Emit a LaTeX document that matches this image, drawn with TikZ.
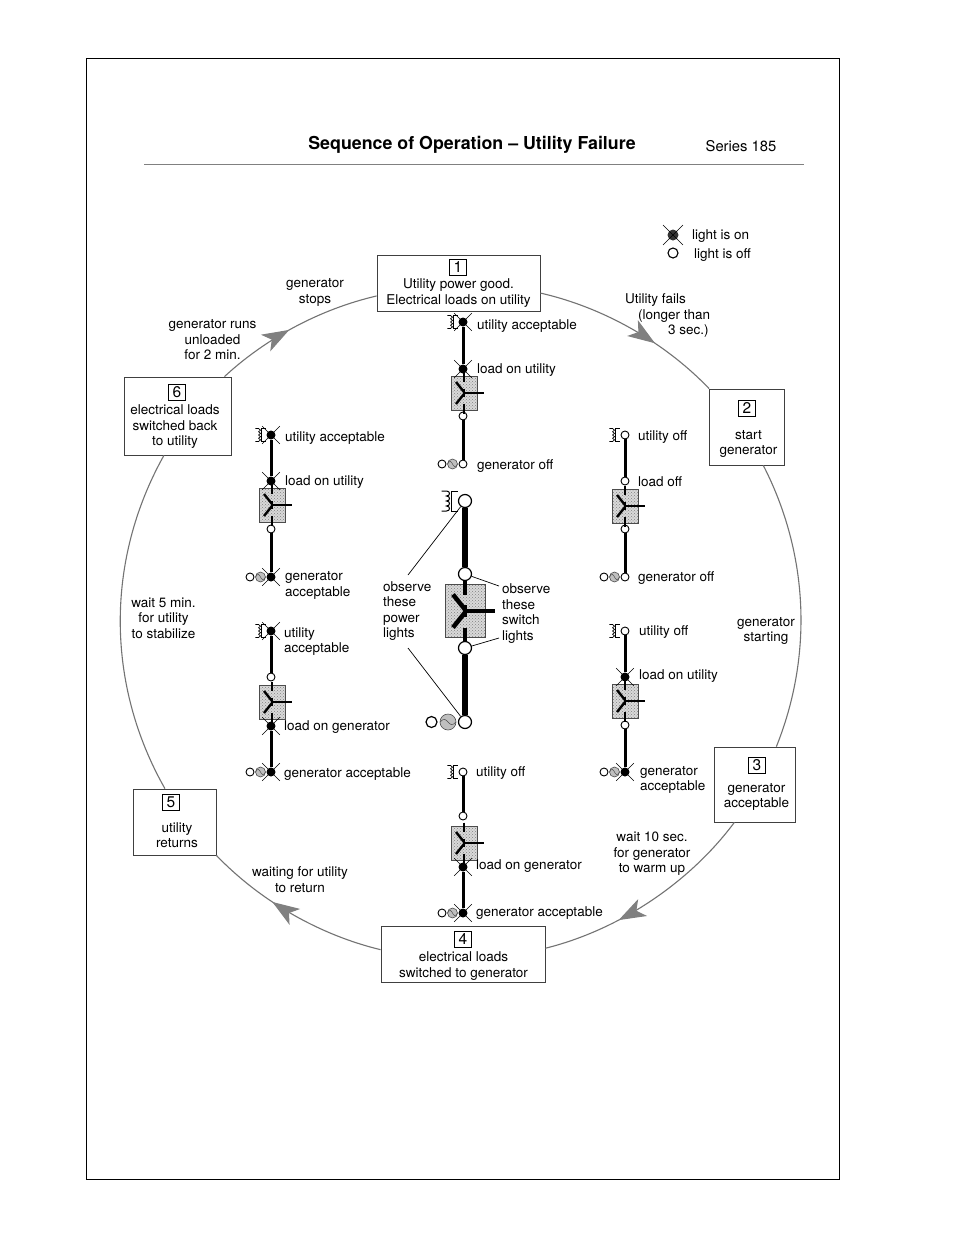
\documentclass[tikz,border=0pt]{standalone}
\usepackage{fontspec}
\setmainfont{TeX Gyre Heros}
\usepackage{tikz}
\usetikzlibrary{patterns, arrows.meta, decorations.markings}

\tikzset{
    lbl/.style={anchor=west, align=left, inner sep=0pt, yshift=-1pt},
    note/.style={align=center, inner sep=0pt, yshift=-1pt},
    stepbox/.style={draw=black!75, fill=white, line width=0.8pt},
    numbox/.style={draw=black, fill=white, line width=0.7pt, minimum width=17pt, minimum height=16pt, inner sep=0pt, font=\fontsize{15.5}{17}\selectfont},
    ringline/.style={draw=black!55, line width=1.1pt, looseness=0.85},
    ringarrow/.style={postaction={decorate, decoration={markings, mark=at position #1 with {\arrow[black!50]{Stealth[length=27pt, width=19pt, inset=7pt]}}}}},
    lampon/.style={circle, fill=black, inner sep=0pt, minimum size=9pt},
    lampoff/.style={circle, draw=black, fill=white, line width=0.9pt, inner sep=0pt, minimum size=8pt},
    lampbig/.style={circle, draw=black, fill=white, line width=1.2pt, inner sep=0pt, minimum size=13pt},
    genface/.style={circle, draw=black!70, fill=black!25, line width=0.6pt, inner sep=0pt, minimum size=#1,
        path picture={\draw[line width=0.5pt] (path picture bounding box.west)
            .. controls ([yshift=9pt]path picture bounding box.center)
            and ([yshift=-9pt]path picture bounding box.center) .. (path picture bounding box.east);}},
    swbox/.style={draw=black!70, line width=0.7pt, preaction={fill=black!15}, pattern=crosshatch dots, pattern color=black!50, inner sep=0pt, minimum width=26pt, minimum height=34pt},
    swbig/.style={swbox, minimum width=40pt, minimum height=53pt},
    feed/.style={line width=3pt},
    feedbig/.style={line width=5.5pt},
    leader/.style={line width=0.7pt}
}

% blades, stubs and handle of a transfer switch
\newcommand{\blades}[3]{
    \begin{scope}[shift={(#1.center)}, scale=#2, line width=#3]
        \draw (0,-20.5) -- (0,-11);
        \draw (0,-4) -- (0,4);
        \draw (0,11) -- (0,20.5);
        \draw (-8,-11) -- (0,-1);
        \draw (-8,11) -- (0,1);
        \draw (0,0) -- (20,0);
    \end{scope}
}
% transformer symbol beside the utility light
\newcommand{\coilsym}[4]{
    \begin{scope}[shift={(#1,#2)}, scale=#3, line width=#4]
        \draw (-8,-10) -- (-3,-10) .. controls (1,-10) and (1,-5) .. (-3,-5)
            .. controls (1,-5) and (1,0) .. (-3,0)
            .. controls (1,0) and (1,5) .. (-3,5)
            .. controls (1,5) and (1,10) .. (-3,10) -- (-8,10);
        \draw (8,-10) -- (2,-10) -- (2,10) -- (8,10);
    \end{scope}
}

\begin{document}
\begin{tikzpicture}[x=1pt, y=-1pt, font=\fontsize{13.5}{15.5}\selectfont]
    \useasboundingbox (0,0) rectangle (954,1235);
    \fill[white] (0,0) rectangle (954,1235);
    \draw[line width=0.9pt] (86,58) rectangle (839,1179);

    % Heading
    \node[note, font=\bfseries\fontsize{17.8}{20}\selectfont] (title) at (472,144) {Sequence of Operation -- Utility Failure};
    \node[note, font=\fontsize{14.8}{17}\selectfont] (series) at (741,145.5) {Series 185};
    \draw[black!50, line width=0.7pt] (144,164) -- (804,164);

    % Step boxes round the ring
    \node[stepbox, minimum width=163pt, minimum height=56pt] (step1) at (458.5,283) {};
    \node[stepbox, minimum width=75pt, minimum height=76pt] (step2) at (747,427) {};
    \node[stepbox, minimum width=81pt, minimum height=75pt] (step3) at (754.5,784.5) {};
    \node[stepbox, minimum width=164pt, minimum height=56pt] (step4) at (463,954) {};
    \node[stepbox, minimum width=83pt, minimum height=66pt] (step5) at (174.5,822) {};
    \node[stepbox, minimum width=107pt, minimum height=78pt] (step6) at (177.5,416) {};

    % Ring
    \draw[ringline, ringarrow=0.64] (step1.-7) to[bend left=16.7] (step2.north west);
    \draw[ringline, looseness=0.9] (step2.-67) to[bend left=24.5] (step3.60);
    \draw[ringline, ringarrow=0.66] (step3.242.5) to[bend left=19.7] (step4.4);
    \draw[ringline, ringarrow=0.62] (step4.177) to[bend left=16.3] (step5.south east);
    \draw[ringline, looseness=0.92] (step5.106) to[bend left=29.4] (step6.251);
    \draw[ringline, ringarrow=0.46] (step6.40) to[bend left=14.9] (step1.189);

    % Box numbers
    \foreach \nm/\x/\y/\num in {n1/458/267/1, n2/747/408/2, n3/757/765/3, n4/463/939/4, n5/171/802/5, n6/177/392/6} {
        \node[numbox] (\nm) at (\x,\y) {\num};
    }

    % Box texts
    \node[note] (txt1) at (458.5,292) {Utility power good.\\Electrical loads on utility};
    \node[note] (txt2) at (748.5,443) {start\\generator};
    \node[note] (txt3) at (756.5,796) {generator\\acceptable};
    \node[note] (txt4) at (463.5,965) {electrical loads\\switched to generator};
    \node[note] (txt5) at (177,834) {utility\\returns};
    \node[note] (txt6) at (175,426) {electrical loads\\switched back\\to utility};

    % Texts between the boxes
    \node[note] (stops) at (315,291.5) {generator\\stops};
    \node[note] (runs) at (212.5,339) {generator runs\\unloaded\\for 2 min.};
    \node[lbl] (fails) at (625,314.5) {Utility fails\\\hspace*{13pt}(longer than\\\hspace*{43pt}3 sec.)};
    \node[note] (starting) at (766,630) {generator\\starting};
    \node[note] (warm) at (652,853) {wait 10 sec.\\for generator\\to warm up};
    \node[note] (waiting) at (300,878.5) {waiting for utility\\to return};
    \node[note] (stabilize) at (163.5,617) {wait 5 min.\\for utility\\to stabilize};

    % Lights of the six small panels
    \foreach \nm/\x/\y/\kind in {
        aU/463/322/lampon, aL/463/369/lampon, aS/463/416/lampoff, aG/463/464/lampoff,
        bU/625/435/lampoff, bL/625/481/lampoff, bS/625/529/lampoff, bG/625/577/lampoff,
        cU/625/631/lampoff, cL/625/677/lampon, cS/625/725/lampoff, cG/625/772/lampon,
        dU/463/772/lampoff, dS/463/816/lampoff, dL/463/867/lampon, dG/463/913/lampon,
        eU/271/631/lampon, eS/271/677/lampoff, eL/271/726/lampon, eG/271/772/lampon,
        fU/271/435/lampon, fL/271/481/lampon, fS/271/529/lampoff, fG/271/577/lampon} {
        \node[\kind] (\nm) at (\x,\y) {};
    }

    % Feeds
    \draw[feed] (aU) -- (aL) (aS) -- (aG);
    \draw[feed] (bU) -- (bL) (bS) -- (bG);
    \draw[feed] (cU) -- (cL) (cS) -- (cG);
    \draw[feed] (dU) -- (dS) (dL) -- (dG);
    \draw[feed] (eU) -- (eS) (eL) -- (eG);
    \draw[feed] (fU) -- (fL) (fS) -- (fG);

    % Switches
    \foreach \nm/\x/\y in {aB/464/393, bB/625/506, cB/625/701, dB/464/843, eB/272/702, fB/272/505} {
        \node[swbox] (\nm) at (\x,\y) {};
        \blades{\nm}{1}{2.4pt}
    }

    % Utility and generator symbols
    \foreach \x/\y in {463/322, 625/435, 625/631, 463/772, 271/631, 271/435} {
        \coilsym{\x-10.5}{\y}{0.65}{0.7pt}
    }
    \foreach \nm/\x/\y in {aG/463/464, bG/625/577, cG/625/772, dG/463/913, eG/271/772, fG/271/577} {
        \node[genface=10pt] (\nm F) at (\x-10.5,\y) {};
        \node[lampoff] (\nm E) at (\x-21,\y) {};
    }

    % Rays of the lights that are on
    \foreach \nm in {aU, aL, cL, cG, dL, dG, eU, eL, eG, fU, fL, fG} {
        \foreach \a in {45,135,225,315} {
            \draw[line width=0.6pt] (\nm.center) -- +(\a:12.5);
        }
    }

    % Small panel labels
    \foreach \nm/\x/\y/\txt in {
        la1/477/325/utility acceptable, la2/477/369/load on utility, la3/477/465/generator off,
        lb1/638/436/utility off, lb2/638/481/load off, lb3/638/577/generator off,
        lc1/639/631/utility off, lc2/639/675/load on utility, lc3/640/779/{generator\\acceptable},
        ld1/476/772/utility off, ld2/476/865/load on generator, ld3/476/912/generator acceptable,
        le1/284/640.5/{utility\\acceptable}, le2/284/726/load on generator, le3/284/773/generator acceptable,
        lf1/285/437/utility acceptable, lf2/285/481/load on utility, lf3/285/584.5/{generator\\acceptable}} {
        \node[lbl] (\nm) at (\x,\y) {\txt};
    }

    % Large panel in the middle
    \node[lampbig] (mU) at (465,501) {};
    \node[lampbig] (mH) at (465,574) {};
    \node[lampbig] (mS) at (465,648) {};
    \node[lampbig] (mG) at (465,722) {};
    \draw[feedbig] (mU) -- (mH) (mS) -- (mG);
    \node[swbig] (mB) at (465,611) {};
    \blades{mB}{1.5}{4.5pt}
    \coilsym{449.5}{501}{1}{1pt}
    \node[genface=16pt] (mF) at (448,722) {};
    \node[lampbig, minimum size=11pt] (mE) at (431.5,722) {};

    \node[lbl] (obsp) at (383,610) {observe\\these\\power\\lights};
    \node[lbl] (obss) at (502,612.5) {observe\\these\\switch\\lights};
    \coordinate (obsptop) at (408,575);
    \coordinate (obspbot) at (408,648);
    \coordinate (obsstop) at (499,586);
    \coordinate (obssbot) at (499,638);
    \draw[leader] (mU) -- (obsptop);
    \draw[leader] (obspbot) -- (mG);
    \draw[leader] (mH) -- (obsstop);
    \draw[leader] (mS) -- (obssbot);

    % Key
    \node[lampon, fill=black!80, minimum size=11pt] (keyon) at (673,235) {};
    \foreach \a in {45,135,225,315} {
        \draw[line width=0.6pt] (keyon.center) -- +(\a:14);
    }
    \node[lampoff, line width=1.1pt, minimum size=10pt] (keyoff) at (673,253) {};
    \node[lbl] (keytxt1) at (692,235) {light is on};
    \node[lbl] (keytxt2) at (694,254) {light is off};
\end{tikzpicture}
\end{document}
